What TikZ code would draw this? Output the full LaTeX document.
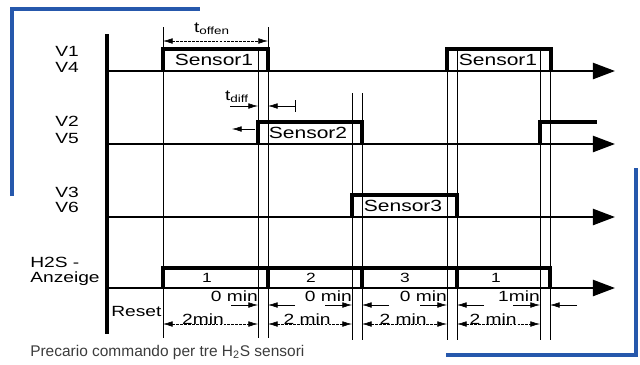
\documentclass[tikz,border=0pt]{standalone}
\usepackage{fontspec}
\setmainfont{Liberation Sans}
\newfontfamily\widesans[FakeStretch=1.3]{Liberation Sans}
\usepackage{tikz}
\usetikzlibrary{arrows.meta}
\definecolor{frameblue}{RGB}{38,88,172}
\definecolor{capgray}{RGB}{60,60,60}

\begin{document}
\begin{tikzpicture}[x=0.025cm, y=-0.025cm,
  sigline/.style={line width=1.6pt, -{Triangle[length=0.55cm,width=0.4cm]}},
  pulse/.style={line width=2.3pt},
  guide/.style={line width=0.35pt},
  dimboth/.style={line width=0.4pt, dash pattern=on 2pt off 0.8pt, {Latex[length=2.4mm,width=1.4mm]}-{Latex[length=2.4mm,width=1.4mm]}},
  dimone/.style={line width=0.4pt, -{Latex[length=2.4mm,width=1.4mm]}},
  lab/.style={font=\widesans\fontsize{10.5}{11}\selectfont, inner sep=0pt},
  big/.style={font=\widesans\fontsize{11.5}{12}\selectfont, inner sep=0pt},
  small/.style={font=\widesans\fontsize{9.5}{10}\selectfont, inner sep=0pt}]

\useasboundingbox (0,0) rectangle (640,364);

\def\xa{107}
\def\xe{615}

% blue frame corners
\draw[frameblue, line width=2.2pt] (12,196) -- (12,9) -- (200,9);
\draw[frameblue, line width=2.2pt] (636,168) -- (636,355) -- (446,355);

% thin guides
\foreach \gx/\gt/\gb in {163/27/338, 268/27/338, 258/50/338, 352/93/340, 362/93/340,
                          447/49/340, 457/49/340, 540/49/340, 550/49/340} {
  \draw[guide] (\gx,\gt) -- (\gx,\gb);
}

% axis
\draw[line width=2.2pt] (\xa,34) -- (\xa,334);

% signal lines
\foreach \sy in {71,144,217,288} {
  \draw[sigline] (\xa,\sy) -- (\xe,\sy);
}

% pulses
\draw[pulse] (163,71) |- (268,49) -- (268,71);
\draw[pulse] (447,71) |- (551,49) -- (551,71);
\draw[pulse] (258,144) |- (362,122) -- (362,144);
\draw[pulse] (540,144) |- (597,122);
\draw[pulse] (352,217) |- (457,195) -- (457,217);
\draw[pulse] (163,288) |- (550,268) -- (550,288);
\foreach \bx in {268,362,457} {
  \draw[pulse] (\bx,268) -- (\bx,288);
}

\node[big] (s1a) at (214,60) {Sensor1};
\node[big] (s1b) at (498,60) {Sensor1};
\node[big] (s2) at (308,133) {Sensor2};
\node[big] (s3) at (403,206) {Sensor3};

\node[small] (b1) at (207,278) {1};
\node[small] (b2) at (311,278) {2};
\node[small] (b3) at (405,278) {3};
\node[small] (b4) at (496,278) {1};

% row labels
\node[lab, anchor=west] (v1) at (55,51) {V1};
\node[lab, anchor=west] (v4) at (55,67) {V4};
\node[lab, anchor=west] (v2) at (55,121) {V2};
\node[lab, anchor=west] (v5) at (55,138) {V5};
\node[lab, anchor=west] (v3) at (55,192) {V3};
\node[lab, anchor=west] (v6) at (55,207) {V6};
\node[lab, anchor=west] (h2s) at (30,262) {H2S -};
\node[lab, anchor=west] (anz) at (30,279) {Anzeige};
\node[lab, anchor=west] (reset) at (111,311) {Reset};

% t_offen
\node[lab] (toffen) at (212,29) {t\textsubscript{offen}};
\draw[dimboth] (163,41) -- (268,41);

% t_diff
\node[lab] (tdiff) at (237,97) {t\textsubscript{diff}};
\draw[dimone] (230,106) -- (258,106);
\draw[dimone] (295,106) -- (268,106);
\draw[line width=0.4pt] (295,100) -- (295,112);
\draw[dimone] (255,129) -- (232,129);

% time marks
\node[lab, anchor=east] (m1) at (258,296) {0 min};
\node[lab, anchor=east] (m2) at (352,296) {0 min};
\node[lab, anchor=east] (m3) at (447,296) {0 min};
\node[lab, anchor=east] (m4) at (540,296) {1min};
\foreach \rx/\lx in {258/268, 352/362, 447/457, 540/550} {
  \draw[dimone] (\rx-27,305) -- (\rx,305);
  \draw[dimone] (\lx+27,305) -- (\lx,305);
}

\node[lab] (d1) at (203,319) {2min};
\node[lab] (d2) at (307,319) {2 min};
\node[lab] (d3) at (403,319) {2 min};
\node[lab] (d4) at (493,319) {2 min};
\foreach \dl/\dr in {163/258, 268/352, 362/447, 457/540} {
  \draw[dimboth] (\dl,324) -- (\dr,324);
}

\node[anchor=west, text=capgray, font=\fontsize{11}{12}\selectfont, inner sep=0pt] (cap) at (30,352)
  {Precario commando per tre H\textsubscript{2}S sensori};

\end{tikzpicture}
\end{document}
